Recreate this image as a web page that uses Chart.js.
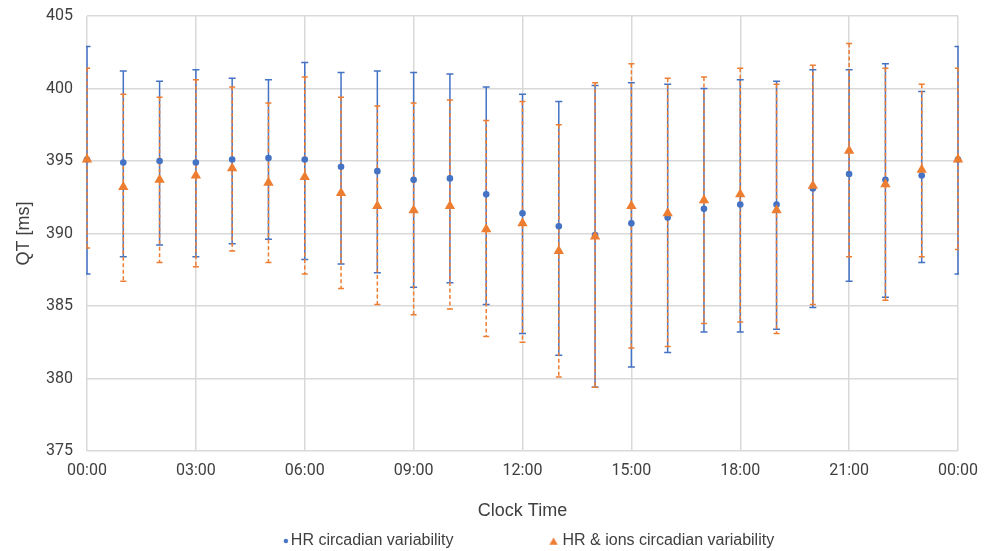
<!DOCTYPE html>
<html>
<head>
<meta charset="utf-8">
<script src="https://cdn.jsdelivr.net/npm/chart.js@4/dist/chart.umd.min.js"></script>
<style>
  html, body { margin: 0; padding: 0; background: #ffffff; }
  #wrap { width: 989px; height: 551px; position: relative; }
</style>
</head>
<body>
<div id="wrap"><canvas id="c" width="989" height="551"></canvas></div>
<script>
// ---- data ----
const hours = ['00:00','01:00','02:00','03:00','04:00','05:00','06:00','07:00','08:00','09:00','10:00','11:00',
               '12:00','13:00','14:00','15:00','16:00','17:00','18:00','19:00','20:00','21:00','22:00','23:00','00:00'];

const hrMean = [395.1, 394.9, 395.0, 394.9, 395.1, 395.2, 395.1, 394.6, 394.3, 393.7, 393.8, 392.7,
                391.4, 390.5, 389.9, 390.7, 391.1, 391.7, 392.0, 392.0, 393.1, 394.1, 393.7, 394.0, 395.1];
const hrHigh = [402.9, 401.2, 400.5, 401.3, 400.7, 400.6, 401.8, 401.1, 401.2, 401.1, 401.0, 400.1,
                399.6, 399.1, 400.2, 400.4, 400.3, 400.0, 400.6, 400.5, 401.3, 401.3, 401.7, 399.8, 402.9];
const hrLow  = [387.2, 388.4, 389.2, 388.4, 389.3, 389.6, 388.2, 387.9, 387.3, 386.3, 386.6, 385.1,
                383.1, 381.6, 379.4, 380.8, 381.8, 383.2, 383.2, 383.4, 384.9, 386.7, 385.6, 388.0, 387.2];

const ionsMean = [395.1, 393.2, 393.7, 394.0, 394.5, 393.5, 393.9, 392.8, 391.9, 391.6, 391.9, 390.3,
                  390.7, 388.8, 389.8, 391.9, 391.4, 392.3, 392.7, 391.6, 393.3, 395.7, 393.4, 394.4, 395.1];
const ionsHigh = [401.4, 399.6, 399.4, 400.6, 400.1, 399.0, 400.8, 399.4, 398.8, 399.0, 399.2, 397.8,
                  399.1, 397.5, 400.4, 401.7, 400.7, 400.8, 401.4, 400.3, 401.6, 403.1, 401.4, 400.3, 401.4];
const ionsLow  = [389.0, 386.7, 388.0, 387.7, 388.8, 388.0, 387.2, 386.2, 385.1, 384.4, 384.8, 382.9,
                  382.5, 380.1, 379.4, 382.1, 382.2, 383.8, 383.9, 383.1, 385.1, 388.4, 385.4, 388.4, 388.9];

const seriesNames = ['HR circadian variability', 'HR & ions circadian variability'];
const yMin = 375, yMax = 405, yStep = 5;

// ---- styles ----
const BLUE = '#4472C4';
const ORANGE = '#ED7D31';
const GRID = '#d9d9d9';
const TEXT = '#404040';

// error bar plugin (uses the chart's own scales)
const errorSets = [
  { datasetIndex: 0, low: hrLow, high: hrHigh, color: BLUE, width: 1.5, dash: [], cap: 3.5 },
  { datasetIndex: 1, low: ionsLow, high: ionsHigh, color: ORANGE, width: 1.5, dash: [4, 2.5], cap: 3 }
];
const errorBarPlugin = {
  id: 'errorBars',
  beforeDatasetsDraw(chart) {
    const { ctx, chartArea, scales } = chart;
    const y = scales.y;
    ctx.save();
    ctx.beginPath();
    ctx.rect(chartArea.left - 1, chartArea.top - 2, chartArea.width + 2, chartArea.height + 4);
    ctx.clip();
    errorSets.forEach(es => {
      const meta = chart.getDatasetMeta(es.datasetIndex);
      ctx.strokeStyle = es.color;
      ctx.lineWidth = es.width;
      meta.data.forEach((pt, i) => {
        const x = pt.x;
        const yh = y.getPixelForValue(es.high[i]);
        const yl = y.getPixelForValue(es.low[i]);
        ctx.setLineDash(es.dash);
        ctx.beginPath();
        ctx.moveTo(x, yh);
        ctx.lineTo(x, yl);
        ctx.stroke();
        ctx.setLineDash([]);
        ctx.beginPath();
        ctx.moveTo(x - es.cap, yh); ctx.lineTo(x + es.cap, yh);
        ctx.moveTo(x - es.cap, yl); ctx.lineTo(x + es.cap, yl);
        ctx.stroke();
      });
    });
    ctx.restore();
  }
};

// legend markers
const LEG_W = 99, LEG_E = 8;
function legendMarker(kind, color) {
  const c = document.createElement('canvas');
  c.width = LEG_W + 2 * LEG_E;
  c.height = 16;
  const g = c.getContext('2d');
  g.fillStyle = color;
  if (kind === 'circle') {
    g.beginPath();
    g.arc(LEG_W + 11, 8, 2.2, 0, Math.PI * 2);
    g.fill();
  } else {
    const cx = LEG_W + 7;
    g.beginPath();
    g.moveTo(cx, 4.5);
    g.lineTo(cx + 4.2, 11.8);
    g.lineTo(cx - 4.2, 11.8);
    g.closePath();
    g.fill();
  }
  return c;
}
const legendMarkers = [legendMarker('circle', BLUE), legendMarker('triangle', ORANGE)];

Chart.defaults.font.family = '"Liberation Sans", Arial, sans-serif';
Chart.defaults.color = TEXT;

new Chart(document.getElementById('c'), {
  type: 'line',
  data: {
    labels: hours,
    datasets: [
      {
        label: seriesNames[0],
        data: hrMean,
        showLine: false,
        pointStyle: 'circle',
        pointRadius: 3.3,
        pointBorderWidth: 0,
        pointBackgroundColor: BLUE,
        borderColor: BLUE,
        backgroundColor: BLUE,
        order: 1,
        clip: false
      },
      {
        label: seriesNames[1],
        data: ionsMean,
        showLine: false,
        pointStyle: 'triangle',
        pointRadius: 6,
        pointBorderWidth: 0,
        pointBackgroundColor: ORANGE,
        borderColor: ORANGE,
        backgroundColor: ORANGE,
        order: 0,
        clip: false
      }
    ]
  },
  options: {
    responsive: false,
    animation: false,
    devicePixelRatio: 1,
    events: [],
    layout: { padding: { left: 0, right: 31, top: 16, bottom: 0 } },
    scales: {
      x: {
        type: 'category',
        offset: false,
        border: { display: false },
        grid: {
          color: GRID,
          lineWidth: 1.5,
          drawTicks: false
        },
        ticks: {
          autoSkip: false,
          maxRotation: 0,
          minRotation: 0,
          padding: 10,
          color: TEXT,
          font: { family: 'Roboto', size: 16 },
          callback: function (val, idx) {
            return idx % 3 === 0 ? this.getLabelForValue(val) : null;
          }
        },
        title: {
          display: true,
          text: 'Clock Time',
          color: TEXT,
          font: { size: 18 },
          padding: { top: 0, bottom: 9 }
        },
        afterFit(scale) { scale.height = 80; }
      },
      y: {
        min: yMin,
        max: yMax,
        border: { display: false },
        grid: { color: GRID, lineWidth: 1.5, drawTicks: true, tickLength: 10, tickColor: 'rgba(0,0,0,0)' },
        ticks: {
          stepSize: yStep,
          padding: 4,
          color: TEXT,
          font: { family: 'Roboto', size: 16 }
        },
        title: {
          display: true,
          text: 'QT [ms]',
          color: TEXT,
          font: { size: 18 },
          padding: { top: 13, bottom: 0 }
        },
        afterFit(scale) { scale.width = 87; }
      }
    },
    plugins: {
      tooltip: { enabled: false },
      legend: {
        position: 'bottom',
        align: 'center',
        maxHeight: 20,
        labels: {
          usePointStyle: true,
          pointStyleWidth: LEG_W,
          padding: 2,
          color: TEXT,
          font: { size: 16 },
          generateLabels(chart) {
            const items = Chart.defaults.plugins.legend.labels.generateLabels(chart);
            items.sort((a, b) => a.datasetIndex - b.datasetIndex);
            items.forEach(it => { it.pointStyle = legendMarkers[it.datasetIndex]; it.fontColor = TEXT; });
            return items;
          }
        }
      }
    }
  },
  plugins: [errorBarPlugin]
});
</script>
</body>
</html>
